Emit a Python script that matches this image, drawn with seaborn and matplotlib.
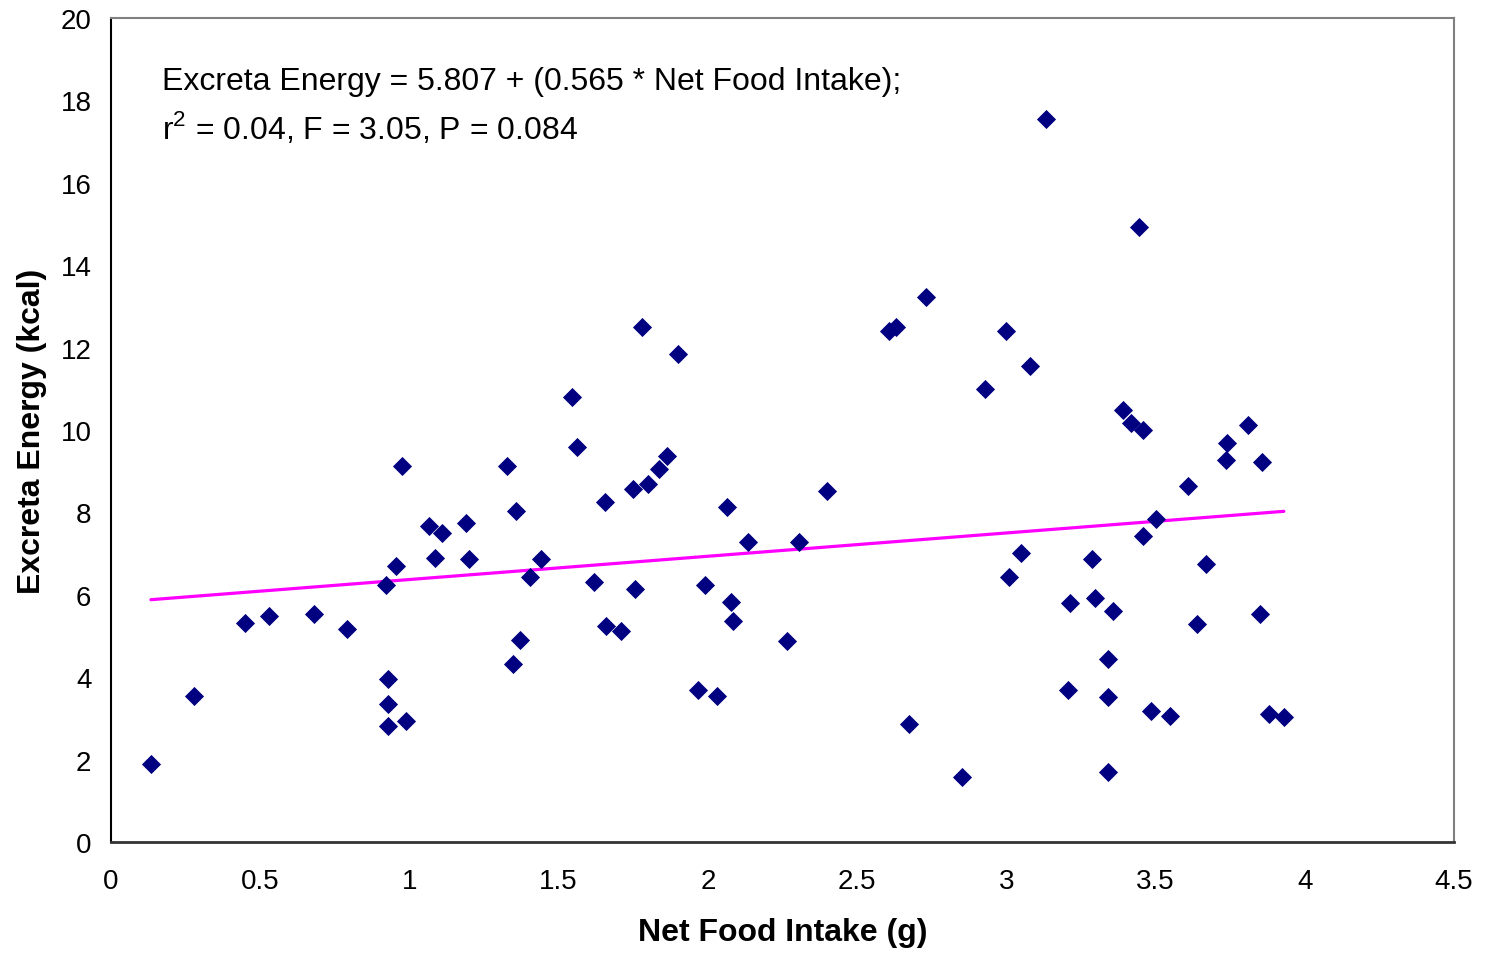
import numpy as np
import pandas as pd
import matplotlib
matplotlib.use('Agg')
import matplotlib.pyplot as plt
import seaborn as sns

# Net food intake (g) and excreta energy (kcal)
net_food_intake = [
    0.134, 0.28, 0.45, 0.53, 0.68, 0.79, 0.92, 0.93, 0.93, 0.93,
    0.955, 0.975, 0.99, 1.066, 1.086, 1.11, 1.19, 1.20, 1.327, 1.347,
    1.357, 1.37, 1.404, 1.44, 1.545, 1.56, 1.62, 1.655, 1.66, 1.71,
    1.75, 1.756, 1.78, 1.80, 1.836, 1.863, 1.90, 1.967, 1.99, 2.03,
    2.064, 2.077, 2.084, 2.134, 2.265, 2.305, 2.40, 2.607, 2.63, 2.674,
    2.73, 2.85, 2.93, 3.0, 3.01, 3.05, 3.08, 3.133, 3.207, 3.213,
    3.287, 3.297, 3.34, 3.34, 3.34, 3.357, 3.39, 3.418, 3.445, 3.458,
    3.458, 3.485, 3.50, 3.55, 3.61, 3.64, 3.67, 3.736, 3.74, 3.81,
    3.85, 3.857, 3.88, 3.93,
]
excreta_energy = [
    1.89, 3.54, 5.32, 5.49, 5.53, 5.17, 6.24, 3.96, 3.35, 2.82,
    6.70, 9.13, 2.94, 7.67, 6.89, 7.50, 7.74, 6.87, 9.13, 4.32,
    8.03, 4.90, 6.43, 6.87, 10.80, 9.59, 6.31, 8.25, 5.24, 5.12,
    8.57, 6.14, 12.50, 8.69, 9.05, 9.37, 11.84, 3.69, 6.24, 3.54,
    8.13, 5.83, 5.36, 7.28, 4.88, 7.28, 8.52, 12.40, 12.50, 2.86,
    13.23, 1.58, 11.0, 12.40, 6.43, 7.01, 11.55, 17.55, 3.69, 5.80,
    6.87, 5.92, 4.44, 3.52, 1.70, 5.61, 10.49, 10.17, 14.93, 10.0,
    7.43, 3.18, 7.84, 3.06, 8.64, 5.29, 6.75, 9.27, 9.68, 10.12,
    5.53, 9.22, 3.11, 3.03,
]

# regression from the annotation
intercept = 5.807
slope = 0.565

x_ticks = [0, 0.5, 1, 1.5, 2, 2.5, 3, 3.5, 4, 4.5]
x_tick_labels = ['0', '0.5', '1', '1.5', '2', '2.5', '3', '3.5', '4', '4.5']
y_ticks = [0, 2, 4, 6, 8, 10, 12, 14, 16, 18, 20]

sns.set_style('white')
plt.rcParams['font.family'] = ['Liberation Sans', 'DejaVu Sans']
plt.rcParams['mathtext.fontset'] = 'custom'
plt.rcParams['mathtext.rm'] = 'Liberation Sans'
plt.rcParams['text.color'] = 'black'
plt.rcParams['axes.labelcolor'] = 'black'

df = pd.DataFrame({'intake': net_food_intake, 'energy': excreta_energy})

fig = plt.figure(figsize=(14.85, 9.54), dpi=100)
ax = fig.add_axes([0.0747, 0.1163, 0.9044, 0.8637])

# fitted line over the range of the data
line_x = np.array([df['intake'].min(), df['intake'].max()])
fit_df = pd.DataFrame({'intake': line_x, 'energy': intercept + slope * line_x})
sns.lineplot(data=fit_df, x='intake', y='energy', color='#ff00ff', linewidth=2.3, ax=ax)

sns.scatterplot(data=df, x='intake', y='energy', marker='D', s=95,
                color='#000080', edgecolor='#000080', linewidth=0, ax=ax, zorder=3)

ax.set_xlim(0, 4.5)
ax.set_ylim(0, 20)
ax.set_xticks(x_ticks)
ax.set_xticklabels(x_tick_labels)
ax.set_yticks(y_ticks)
ax.tick_params(axis='both', direction='inout', length=12, width=1, labelsize=20,
               colors='black', labelcolor='black')
ax.tick_params(axis='x', pad=13)
ax.tick_params(axis='y', pad=8)

for side in ['top', 'right']:
    ax.spines[side].set_color('#808080')
    ax.spines[side].set_linewidth(1.5)
ax.spines['left'].set_color('black')
ax.spines['bottom'].set_color('#333333')
ax.spines['left'].set_linewidth(1.5)
ax.spines['bottom'].set_linewidth(2)

ax.set_xlabel('Net Food Intake (g)', fontsize=23, fontweight='bold', labelpad=16)
ax.set_ylabel('Excreta Energy (kcal)', fontsize=23, fontweight='bold', labelpad=10)

ax.text(0.171, 18.47, 'Excreta Energy = 5.807 + (0.565 * Net Food Intake);',
        fontsize=23, va='center', ha='left', color='black')
ax.text(0.171, 17.35, r'r$^{\mathregular{2}}$ = 0.04, F = 3.05, P = 0.084',
        fontsize=23, va='center', ha='left', color='black')

fig.savefig('out.png', dpi=100)
